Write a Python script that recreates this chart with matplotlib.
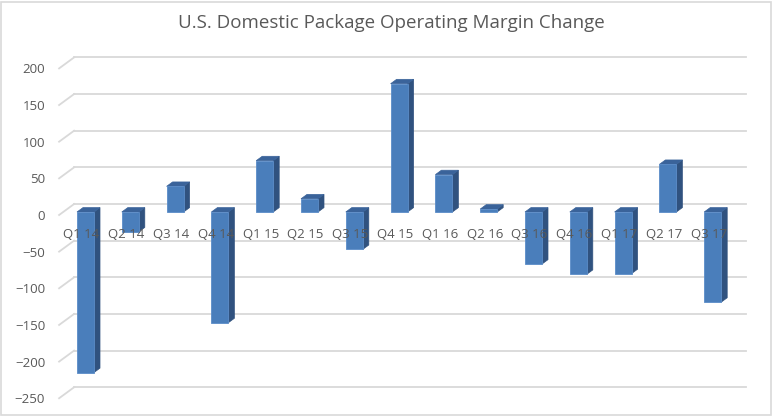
import numpy as np
from matplotlib import pyplot as plt
from matplotlib.patches import Polygon, Rectangle

quarters = ["Q1 14", "Q2 14", "Q3 14", "Q4 14", "Q1 15", "Q2 15", "Q3 15", "Q4 15",
            "Q1 16", "Q2 16", "Q3 16", "Q4 16", "Q1 17", "Q2 17", "Q3 17"]
margin_change = [-219, -27, 35, -151, 70, 18, -51, 175, 51, 4, -71, -85, -84, 65, -123]
y_ticks = [-250, -200, -150, -100, -50, 0, 50, 100, 150, 200]

TEXT = "#595959"
GRID = "#D9D9D9"
FRONT = "#4A7EBB"
SIDE = "#30527F"
TOP = "#3A639A"

plt.rcParams['font.family'] = ['Open Sans', 'DejaVu Sans']

W, H = 773, 416
fig = plt.figure(figsize=(W / 100, H / 100), dpi=100)

# axes placed so one category = 44.8 px and one unit = 0.733 px
ax = fig.add_axes([59.1 / W, (H - 398.25) / H, 672 / W, 329.85 / H])
ax.set_xlim(-0.5, 14.5)
ax.set_ylim(-250, 200)

px_x = 1 / 44.8     # categories per pixel
px_y = 1 / 0.733    # units per pixel

# depth of the chart box (front plane -> back wall)
wall_dx, wall_dy = 15 * px_x, 11 * px_y
# bars sit a bit behind the front plane and have some depth
bar_fx, bar_fy = 4 * px_x, 3 * px_y
bar_dx, bar_dy = 0.4 * wall_dx, 0.4 * wall_dy
bar_w = 17 * px_x

# back wall gridlines + left wall diagonals
for t in y_ticks:
    ax.plot([-0.5 + wall_dx, 14.5 + wall_dx], [t + wall_dy, t + wall_dy],
            color=GRID, lw=1.3, clip_on=False, zorder=1)
    ax.plot([-0.5, -0.5 + wall_dx], [t, t + wall_dy],
            color=GRID, lw=1.3, clip_on=False, zorder=1)

x = np.arange(len(quarters))
vals = np.array(margin_change, dtype=float)

# draw bars back to front (left to right works since depth goes right)
for i, v in enumerate(vals):
    lo, hi = min(v, 0), max(v, 0)
    x0 = i - bar_w / 2 + bar_fx
    x1 = i + bar_w / 2 + bar_fx
    side = Polygon([(x1, lo + bar_fy), (x1 + bar_dx, lo + bar_fy + bar_dy),
                    (x1 + bar_dx, hi + bar_fy + bar_dy), (x1, hi + bar_fy)],
                   closed=True, facecolor=SIDE, edgecolor=SIDE, lw=0.5, zorder=2, clip_on=False)
    top = Polygon([(x0, hi + bar_fy), (x1, hi + bar_fy),
                   (x1 + bar_dx, hi + bar_fy + bar_dy), (x0 + bar_dx, hi + bar_fy + bar_dy)],
                  closed=True, facecolor=TOP, edgecolor=TOP, lw=0.5, zorder=2, clip_on=False)
    ax.add_patch(side)
    ax.add_patch(top)

ax.bar(x + bar_fx, vals, bottom=bar_fy, width=bar_w, color=FRONT,
       edgecolor="#5B8CC8", linewidth=0.6, zorder=3)

# category labels on the front plane
for i, q in enumerate(quarters):
    ax.text(i, -26, q, ha='center', va='center', fontsize=9.5, color=TEXT, zorder=5)

ax.set_xticks([])
ax.set_yticks(y_ticks)
ax.tick_params(axis='y', length=0, pad=10, labelsize=9.5, labelcolor=TEXT)
for s in ax.spines.values():
    s.set_visible(False)
ax.patch.set_alpha(0)

fig.text(391 / W, 1 - 23 / H, "U.S. Domestic Package Operating Margin Change",
         ha='center', va='center', fontsize=13.5, color=TEXT)

# light chart border
fig.patches.append(Rectangle((0.5 / W, 1.5 / H), (W - 3) / W, (H - 3) / H,
                             transform=fig.transFigure, fill=False,
                             edgecolor=GRID, lw=1.2))

plt.savefig("out.png", dpi=100)
